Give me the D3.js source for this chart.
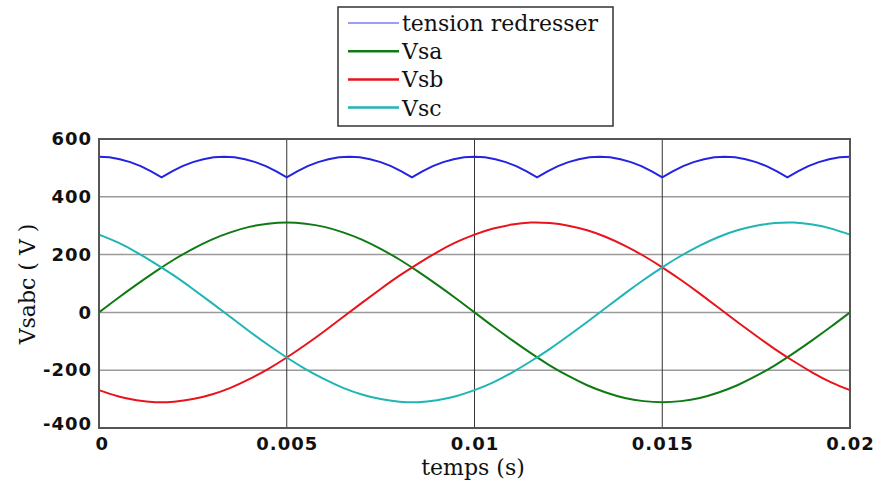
<!DOCTYPE html>
<html lang="en">
<head>
  <meta charset="utf-8">
  <title>Vsabc</title>
  <script src="https://d3js.org/d3.v7.min.js"></script>
  <style>
    body { margin: 0; background: #fff; }
  </style>
</head>
<body>
<script>
// sampled every 0.5 ms (0 .. 20 ms)
var sinStep = 0.0005;
var vsa = [0,49,96,141,183,220,252,277,296,307,311,307,296,277,252,220,183,141,96,49,
  0,-49,-96,-141,-183,-220,-252,-277,-296,-307,-311,-307,-296,-277,-252,-220,-183,-141,-96,-49,0];
var vsb = [-269,-290,-304,-311,-309,-300,-284,-261,-231,-196,-156,-112,-65,-16,33,81,127,169,208,242,
  269,290,304,311,309,300,284,261,231,196,156,112,65,16,-33,-81,-127,-169,-208,-242,-269];
var vsc = [269,242,208,169,127,81,33,-16,-65,-112,-156,-196,-231,-261,-284,-300,-309,-311,-304,-290,
  -269,-242,-208,-169,-127,-81,-33,16,65,112,156,196,231,261,284,300,309,311,304,290,269];
// rectifier output sampled every 1/3600 s
var rectStep = 1 / 3600;
var rect = [539,537,530,520,506,488,467,488,506,520,530,537,
  539,537,530,520,506,488,467,488,506,520,530,537,
  539,537,530,520,506,488,467,488,506,520,530,537,
  539,537,530,520,506,488,467,488,506,520,530,537,
  539,537,530,520,506,488,467,488,506,520,530,537,
  539,537,530,520,506,488,467,488,506,520,530,537,539];

var xTicks = [0, 0.005, 0.01, 0.015, 0.02];
var xTickLabels = ["0", "0.005", "0.01", "0.015", "0.02"];
var yTicks = [-400, -200, 0, 200, 400, 600];
var yTickLabels = ["-400", "-200", "0", "200", "400", "600"];
var names = ["tension redresser", "Vsa", "Vsb", "Vsc"];
var colors = ["#2424e0", "#0f7a14", "#e8141c", "#1fb5b5"];

var W = 875, H = 483;
var pLeft = 99, pRight = 850, pTop = 139, pBottom = 428;

var svg = d3.select("body").append("svg")
  .attr("width", W).attr("height", H);

var x = d3.scaleLinear().domain([0, 0.02]).range([pLeft, pRight]);
var y = d3.scaleLinear().domain([-400, 600]).range([pBottom, pTop]);

// grid
svg.append("g").selectAll("line").data(yTicks.slice(1, -1)).enter().append("line")
  .attr("x1", pLeft).attr("x2", pRight)
  .attr("y1", d => y(d)).attr("y2", d => y(d))
  .attr("stroke", "#9a9a9a").attr("stroke-width", 1.5);
svg.append("g").selectAll("line").data(xTicks.slice(1, -1)).enter().append("line")
  .attr("x1", d => x(d)).attr("x2", d => x(d))
  .attr("y1", pTop).attr("y2", pBottom)
  .attr("stroke", "#333").attr("stroke-width", 1);

// curves
var sinLine = d3.line()
  .x((d, i) => x(i * sinStep))
  .y(d => y(d))
  .curve(d3.curveNatural);
var rectLine = d3.line()
  .x((d, i) => x(i * rectStep))
  .y(d => y(d));

var series = [
  { data: rect, line: rectLine },
  { data: vsa, line: sinLine },
  { data: vsb, line: sinLine },
  { data: vsc, line: sinLine }
];
svg.append("g").selectAll("path").data(series).enter().append("path")
  .attr("d", d => d.line(d.data))
  .attr("fill", "none")
  .attr("stroke", (d, i) => colors[i])
  .attr("stroke-width", 2);

// frame
svg.append("rect")
  .attr("x", pLeft).attr("y", pTop)
  .attr("width", pRight - pLeft).attr("height", pBottom - pTop)
  .attr("fill", "none").attr("stroke", "#555").attr("stroke-width", 2);

// axes
var yAxis = d3.axisLeft(y).tickValues(yTicks).tickSize(0).tickPadding(7)
  .tickFormat((d, i) => yTickLabels[i]);
var gy = svg.append("g").attr("transform", "translate(" + pLeft + ",0)").call(yAxis);
var xAxis = d3.axisBottom(x).tickValues(xTicks).tickSize(0).tickPadding(9)
  .tickFormat((d, i) => xTickLabels[i]);
var gx = svg.append("g").attr("transform", "translate(0," + pBottom + ")").call(xAxis);
[gx, gy].forEach(function (g) {
  g.select(".domain").remove();
  g.selectAll("text")
    .attr("font-family", "DejaVu Sans, sans-serif")
    .attr("font-weight", "bold")
    .attr("font-size", 18)
    .attr("letter-spacing", 1)
    .attr("fill", "#111");
});
gy.selectAll("text").filter(d => d === -400).attr("dy", "0.1em");
gx.selectAll("text").filter(d => d === 0).attr("dx", "0.15em");

svg.append("text")
  .attr("transform", "translate(35,284) rotate(-90)")
  .attr("text-anchor", "middle")
  .attr("font-family", "DejaVu Serif, serif")
  .attr("font-size", 22)
  .attr("fill", "#111")
  .text("Vsabc ( V )");

svg.append("text")
  .attr("x", 473).attr("y", 475)
  .attr("text-anchor", "middle")
  .attr("font-family", "DejaVu Serif, serif")
  .attr("font-size", 22)
  .attr("fill", "#111")
  .text("temps (s)");

// legend
var lg = svg.append("g");
lg.append("rect")
  .attr("x", 338).attr("y", 7).attr("width", 275).attr("height", 119)
  .attr("fill", "#fff").attr("stroke", "#333").attr("stroke-width", 1.5);
var rows = lg.selectAll("g.row").data(names).enter().append("g")
  .attr("transform", (d, i) => "translate(0," + (23 + i * 28.2) + ")");
rows.append("line")
  .attr("x1", 348).attr("x2", 399).attr("y1", 0).attr("y2", 0)
  .attr("stroke", (d, i) => i === 0 ? "#7c7cf5" : colors[i])
  .attr("stroke-width", (d, i) => i === 0 ? 1.5 : 2.5);
rows.append("text")
  .attr("x", 402).attr("y", 8)
  .attr("font-family", "DejaVu Serif, serif")
  .attr("font-size", 22)
  .attr("fill", "#111")
  .text(d => d);
</script>
</body>
</html>
